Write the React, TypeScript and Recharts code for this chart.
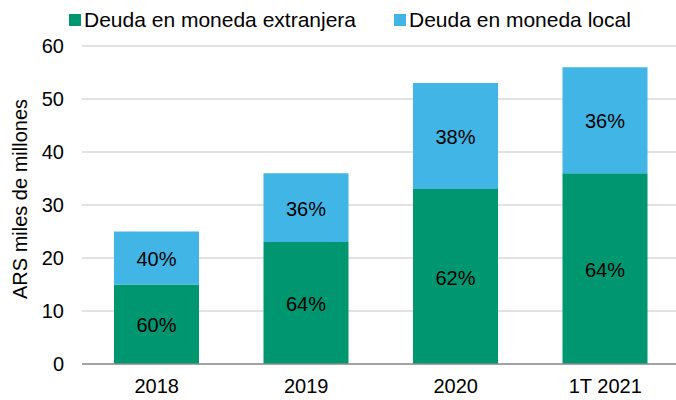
import { BarChart, Bar, XAxis, YAxis, CartesianGrid, LabelList } from 'recharts';

const periodos = ['2018', '2019', '2020', '1T 2021'];
const extranjera = [15, 23, 33, 36];
const local = [10, 13, 20, 20];
const yTicks = [0, 10, 20, 30, 40, 50, 60];

const VERDE = '#009670';
const CELESTE = '#41b6e6';
const FONT = '"Liberation Sans", Arial, sans-serif';

const data = periodos.map((p, i) => ({
  periodo: p,
  extranjera: extranjera[i],
  local: local[i],
  total: extranjera[i] + local[i],
}));

const leyenda = [
  { label: 'Deuda en moneda extranjera', color: VERDE, left: 69 },
  { label: 'Deuda en moneda local', color: CELESTE, left: 394 },
];

export default function App() {
  // porcentaje de cada tramo sobre el total de la barra
  const renderPct = (key: 'extranjera' | 'local') => (props: any) => {
    const { x, y, width, height, index } = props;
    const d = data[index];
    const p = Math.round((d[key] / d.total) * 100);
    return (
      <text
        x={x + width / 2}
        y={y + height / 2 + 1}
        textAnchor="middle"
        dominantBaseline="central"
        fontFamily={FONT}
        fontSize={20}
        fill="#000"
      >
        {p}%
      </text>
    );
  };

  return (
    <div style={{ position: 'absolute', left: 0, top: 0, width: 676, height: 400, background: '#fff', overflow: 'hidden' }}>
      {leyenda.map((it) => (
        <div
          key={it.label}
          style={{
            position: 'absolute',
            top: 8,
            left: it.left,
            display: 'flex',
            alignItems: 'center',
            fontFamily: FONT,
            fontSize: 21,
            lineHeight: '24px',
            color: '#000',
            whiteSpace: 'nowrap',
          }}
        >
          <span style={{ width: 12, height: 12, background: it.color, display: 'inline-block', marginRight: 3 }} />
          <span>{it.label}</span>
        </div>
      ))}
      <BarChart
        width={680}
        height={400}
        data={data}
        margin={{ top: 46, right: 0, bottom: 0, left: 0 }}
        barSize={85}
      >
        <CartesianGrid vertical={false} stroke="#d9d9d9" strokeWidth={1.5} />
        <XAxis
          dataKey="periodo"
          height={36}
          tickLine={false}
          axisLine={{ stroke: '#8c8c8c', strokeWidth: 1.5 }}
          tick={{ fontFamily: FONT, fontSize: 20, fill: '#000' }}
          tickMargin={9}
        />
        <YAxis
          width={82}
          domain={[0, 60]}
          ticks={yTicks}
          interval={0}
          axisLine={false}
          tickLine={false}
          tickSize={8}
          tickMargin={10}
          tick={{ fontFamily: FONT, fontSize: 20, fill: '#000' }}
          label={{
            value: 'ARS miles de millones',
            angle: -90,
            position: 'center',
            dx: -21,
            dy: -6,
            style: { fontFamily: FONT, fontSize: 20, fill: '#000', textAnchor: 'middle' },
          }}
        />
        <Bar dataKey="extranjera" stackId="a" fill={VERDE} isAnimationActive={false}>
          <LabelList dataKey="extranjera" content={renderPct('extranjera')} />
        </Bar>
        <Bar dataKey="local" stackId="a" fill={CELESTE} isAnimationActive={false}>
          <LabelList dataKey="local" content={renderPct('local')} />
        </Bar>
      </BarChart>
    </div>
  );
}
